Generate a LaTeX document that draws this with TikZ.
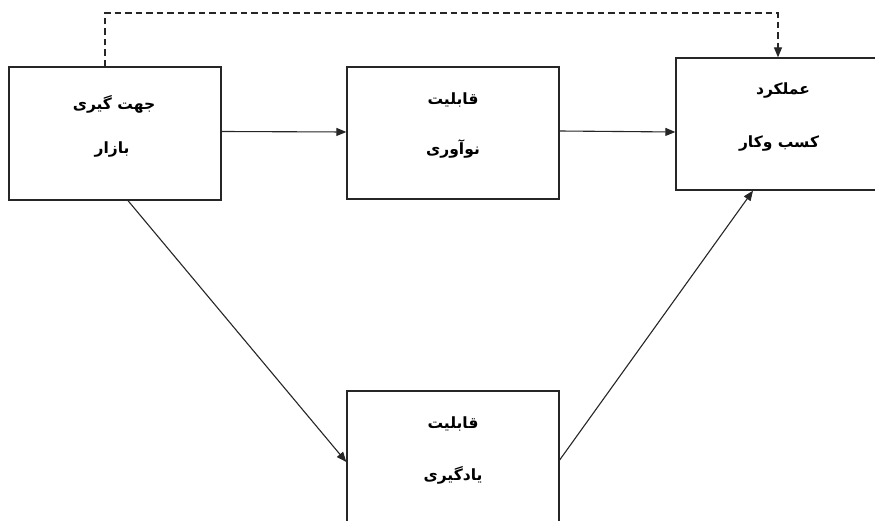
\documentclass[tikz,border=0pt]{standalone}
\usepackage{fontspec}
\newfontfamily\fa[Script=Arabic]{DejaVu Sans}
\TeXXeTstate=1
\usetikzlibrary{arrows.meta}
\begin{document}
\begin{tikzpicture}[x=1pt,y=-1pt,
  box/.style={draw=black!85,line width=1.3pt,rectangle,minimum width=212pt,inner sep=0pt},
  lbl/.style={font=\fa\bfseries\fontsize{15.5}{17}\selectfont,align=center,inner sep=0pt},
  conn/.style={draw=black!85,line width=1.1pt,-{Triangle[length=10pt,width=8pt]}},
  dconn/.style={conn,dash pattern=on 6.5pt off 4pt,line width=1.3pt}]
\useasboundingbox (0,0) rectangle (875,521);
\fill[white] (0,0) rectangle (875,521);
\node[box,minimum height=133pt] (L) at (115,133.5) {};
\node[box,minimum height=132pt] (M) at (453,133) {};
\node[box,minimum width=202pt,minimum height=132pt] (R) at (777,124) {};
\node[box,minimum height=132pt] (B) at (453,457) {};
% texts
\node[lbl] (L1) at (114,104) {\beginR جهت گیری\endR};
\node[lbl] (L2) at (112,150) {\beginR بازار\endR};
\node[lbl] (M1) at (453,100) {\beginR قابلیت\endR};
\node[lbl] (M2) at (453,149) {\beginR نوآوری\endR};
\node[lbl] (R1) at (783,91) {\beginR عملکرد\endR};
\node[lbl] (R2) at (779,144) {\beginR کسب وکار\endR};
\node[lbl] (B1) at (453,424) {\beginR قابلیت\endR};
\node[lbl] (B2) at (453,475) {\beginR یادگیری\endR};
% connectors
\draw[conn] ([yshift=2pt]L.east) -- ([yshift=1pt]M.west);
\draw[conn] ([yshift=2pt]M.east) -- ([yshift=-8pt]R.west);
\draw[conn] ([xshift=13pt]L.south) -- ([yshift=-5pt]B.west);
\draw[conn] ([yshift=-3pt]B.east) -- ([xshift=-24pt]R.south);
\coordinate (c1) at (105,13);
\coordinate (c2) at (778,13);
\draw[dconn] ([xshift=-10pt]L.north) -- (c1) -- (c2) -- ([xshift=1pt]R.north);
\end{tikzpicture}
\end{document}
